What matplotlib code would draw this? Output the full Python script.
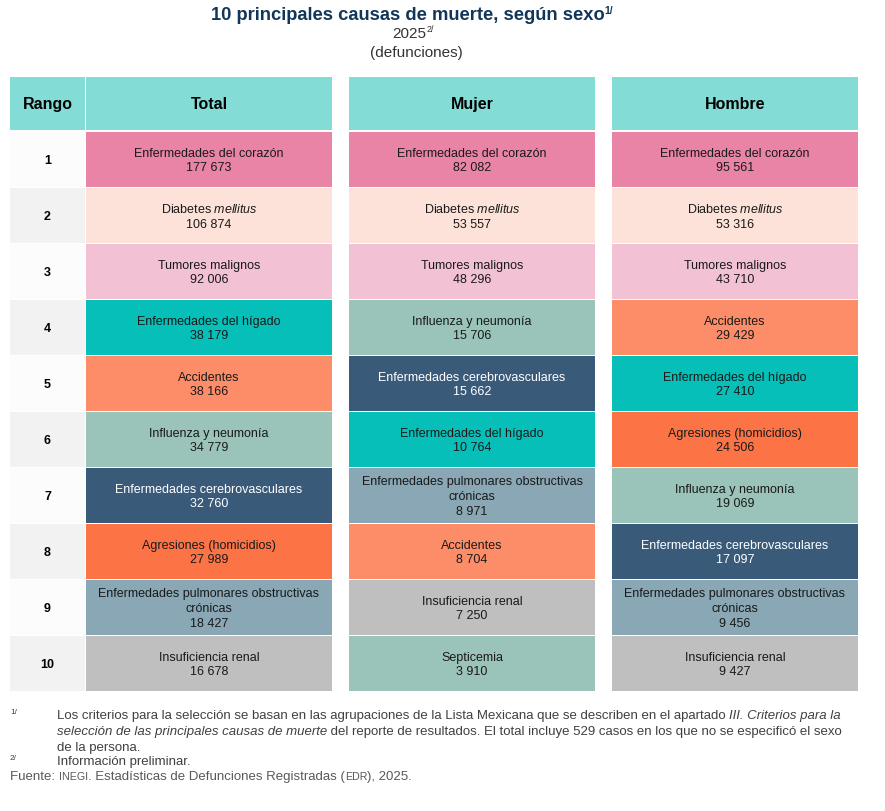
import matplotlib
matplotlib.use("Agg")
import matplotlib.pyplot as plt
from matplotlib.patches import Rectangle

plt.rcParams['font.family'] = ['Liberation Sans', 'DejaVu Sans']
plt.rcParams['mathtext.fontset'] = 'custom'
plt.rcParams['mathtext.rm'] = 'Liberation Sans'
plt.rcParams['mathtext.it'] = 'Liberation Sans:italic'

# ---------------- data ----------------
ranks = list(range(1, 11))
columns = ["Total", "Mujer", "Hombre"]
total_causes = ["Enfermedades del corazón", "Diabetes mellitus", "Tumores malignos",
                "Enfermedades del hígado", "Accidentes", "Influenza y neumonía",
                "Enfermedades cerebrovasculares", "Agresiones (homicidios)",
                "Enfermedades pulmonares obstructivas crónicas", "Insuficiencia renal"]
total_values = [177673, 106874, 92006, 38179, 38166, 34779, 32760, 27989, 18427, 16678]
mujer_causes = ["Enfermedades del corazón", "Diabetes mellitus", "Tumores malignos",
                "Influenza y neumonía", "Enfermedades cerebrovasculares",
                "Enfermedades del hígado", "Enfermedades pulmonares obstructivas crónicas",
                "Accidentes", "Insuficiencia renal", "Septicemia"]
mujer_values = [82082, 53557, 48296, 15706, 15662, 10764, 8971, 8704, 7250, 3910]
hombre_causes = ["Enfermedades del corazón", "Diabetes mellitus", "Tumores malignos",
                 "Accidentes", "Enfermedades del hígado", "Agresiones (homicidios)",
                 "Influenza y neumonía", "Enfermedades cerebrovasculares",
                 "Enfermedades pulmonares obstructivas crónicas", "Insuficiencia renal"]
hombre_values = [95561, 53316, 43710, 29429, 27410, 24506, 19069, 17097, 9456, 9427]

# ---------------- styles ----------------
cause_colors = {
    "Enfermedades del corazón": "#e984a6",
    "Diabetes mellitus": "#fce2d8",
    "Tumores malignos": "#f3c1d4",
    "Enfermedades del hígado": "#06bfb9",
    "Accidentes": "#fd8d68",
    "Influenza y neumonía": "#9ac4ba",
    "Enfermedades cerebrovasculares": "#3a5a79",
    "Agresiones (homicidios)": "#fc7345",
    "Enfermedades pulmonares obstructivas crónicas": "#89a7b4",
    "Insuficiencia renal": "#bfbfbf",
    "Septicemia": "#9ac4ba",
}
dark_causes = {"Enfermedades cerebrovasculares"}
header_color = "#84dcd6"
title_color = "#12365a"

def display_label(c):
    if c == "Diabetes mellitus":
        return r"Diabetes $\mathit{mellitus}$"
    if c == "Enfermedades pulmonares obstructivas crónicas":
        return "Enfermedades pulmonares obstructivas\ncrónicas"
    return c

def fmt(v):
    return f"{v:,}".replace(",", " ")

W, H = 885, 811
fig = plt.figure(figsize=(W / 100, H / 100), dpi=100)
ax = fig.add_axes([0, 0, 1, 1])
ax.set_xlim(0, W)
ax.set_ylim(H, 0)
ax.axis("off")
renderer = fig.canvas.get_renderer()

def text_width(s, **props):
    t = ax.text(0, 0, s + "|", **props)
    w1 = t.get_window_extent(renderer).width
    t.remove()
    t = ax.text(0, 0, "|", **props)
    w2 = t.get_window_extent(renderer).width
    t.remove()
    return w1 - w2

def draw_runs(x, y, runs, ha="left"):
    widths = [text_width(s, **p) for s, p, dy in runs]
    if ha == "center":
        x = x - sum(widths) / 2
    for (s, p, dy), w in zip(runs, widths):
        ax.text(x, y + dy, s, ha="left", va="baseline", **p)
        x += w

# ---------------- title ----------------
tprops = dict(fontsize=13.2, fontweight="bold", color=title_color)
draw_runs(412, 20.5, [("10 principales causas de muerte, según sexo", tprops, 0),
                      ("1/", dict(fontsize=7.5, fontweight="bold", color=title_color), -6.5)],
          ha="center")
sprops = dict(fontsize=11, color="#333333")
draw_runs(413, 38.5, [("2025", sprops, 0), ("2/", dict(fontsize=6.5, color="#333333"), -6)],
          ha="center")
ax.text(416, 57, "(defunciones)", ha="center", va="baseline", **sprops)

# ---------------- table ----------------
col_x = [(10, 85), (86, 332), (349, 595), (612, 858)]
head_top, head_h = 77, 53
row_top0, row_step, row_h = 132, 56, 55

headers = ["Rango"] + columns
for (x0, x1), hd in zip(col_x, headers):
    ax.add_patch(Rectangle((x0, head_top), x1 - x0, head_h, facecolor=header_color,
                           edgecolor="none"))
    ax.text((x0 + x1) / 2, head_top + head_h / 2 + 1, hd, ha="center", va="center",
            fontsize=11.5, fontweight="bold", color="#000000")

data_cols = [(total_causes, total_values), (mujer_causes, mujer_values),
             (hombre_causes, hombre_values)]

for i, r in enumerate(ranks):
    top = row_top0 + row_step * i
    cy = top + row_h / 2
    x0, x1 = col_x[0]
    ax.add_patch(Rectangle((x0, top), x1 - x0, row_h,
                           facecolor="#fcfcfc" if i % 2 == 0 else "#f2f2f2",
                           edgecolor="none"))
    ax.text((x0 + x1) / 2, cy + 1, str(r), ha="center", va="center", fontsize=9,
            fontweight="bold", color="#000000")
    for (causes, values), (cx0, cx1) in zip(data_cols, col_x[1:]):
        c = causes[i]
        ax.add_patch(Rectangle((cx0, top), cx1 - cx0, row_h, facecolor=cause_colors[c],
                               edgecolor="none"))
        col = "#ffffff" if c in dark_causes else "#1a1a1a"
        ax.text((cx0 + cx1) / 2, cy + 1.5, display_label(c) + "\n" + fmt(values[i]),
                ha="center", va="center", fontsize=9, color=col, linespacing=1.32)

# ---------------- footnotes ----------------
fn_family = "Liberation Sans"
line1a = ("Los criterios para la selección se basan en las agrupaciones de la Lista "
          "Mexicana que se describen en el apartado ")
line1b = "III. Criterios para la"
base = 10.0
w = (text_width(line1a, family=fn_family, fontsize=base)
     + text_width(line1b, family=fn_family, fontsize=base, style="italic"))
fs = base * 791 / w
fcol = "#404040"
reg = dict(family=fn_family, fontsize=fs, color=fcol)
ita = dict(family=fn_family, fontsize=fs, color=fcol, style="italic")
small = dict(family=fn_family, fontsize=fs * 0.62, color=fcol)

ax.text(10, 714, "1/", ha="left", va="baseline", **small)
draw_runs(57, 719.5, [(line1a, reg, 0), (line1b, ita, 0)])
draw_runs(57, 735, [("selección de las principales causas de muerte", ita, 0),
                    (" del reporte de resultados. El total incluye 529 casos en los que "
                     "no se especificó el sexo", reg, 0)])
draw_runs(57, 750.5, [("de la persona.", reg, 0)])
ax.text(10, 759.5, "2/", ha="left", va="baseline", **small)
draw_runs(57, 765, [("Información preliminar.", reg, 0)])

gcol = "#595959"
greg = dict(family=fn_family, fontsize=fs, color=gcol)
gsm = dict(family=fn_family, fontsize=fs * 0.8, color=gcol)
draw_runs(10, 780, [("Fuente: ", greg, 0), ("INEGI", gsm, 0),
                    (". Estadísticas de Defunciones Registradas (", greg, 0),
                    ("EDR", gsm, 0), ("), 2025.", greg, 0)])

fig.savefig("out.png", dpi=100)
